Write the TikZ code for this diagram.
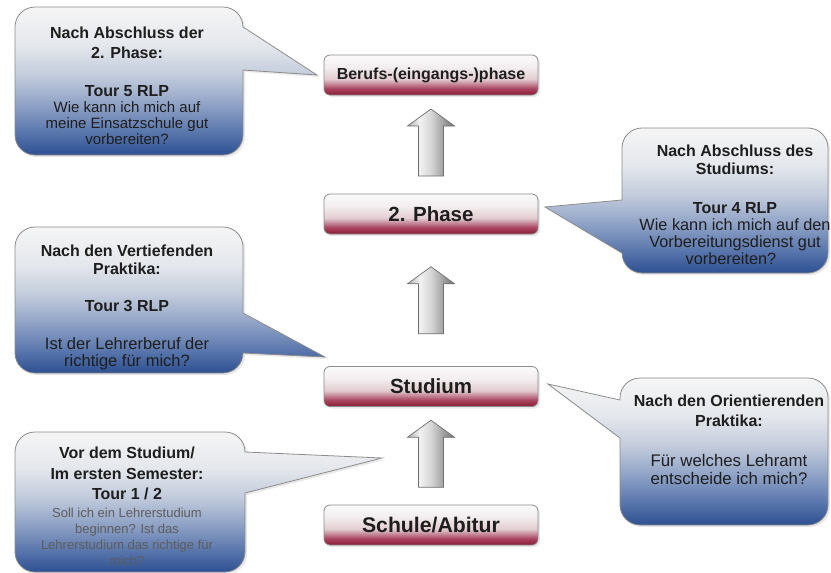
\documentclass[tikz,border=0pt]{standalone}
\usepackage{fontspec}
\setmainfont{Liberation Sans}
\usetikzlibrary{calc,shadows}
\definecolor{txt}{HTML}{1E1E1E}
\definecolor{edge}{HTML}{8C8C8C}
\definecolor{grtxt}{HTML}{5C5C5C}
\definecolor{calA}{HTML}{2E5092}
\definecolor{calB}{HTML}{5573AA}
\definecolor{calC}{HTML}{8FA2C6}
\definecolor{calD}{HTML}{C3CCDC}
\definecolor{calE}{HTML}{E4E7EC}
\definecolor{calF}{HTML}{F5F5F5}
\definecolor{bxA}{HTML}{8A1B35}
\definecolor{bxB}{HTML}{A84460}
\definecolor{bxC}{HTML}{E2CDD2}
\definecolor{bxD}{HTML}{F3EEEF}
\definecolor{bxE}{HTML}{FAFAFA}
\definecolor{arA}{HTML}{B0B0B0}
\definecolor{arB}{HTML}{F2F2F2}
\definecolor{arC}{HTML}{D6D6D6}
\definecolor{arD}{HTML}{707070}
\pgfdeclareverticalshading{calsh}{100bp}{color(0bp)=(calA); color(25bp)=(calA); color(32bp)=(calB); color(42bp)=(calC); color(52bp)=(calD); color(62bp)=(calE); color(75bp)=(calF); color(100bp)=(calF)}
\pgfdeclareverticalshading{boxsh}{100bp}{color(0bp)=(bxA); color(25bp)=(bxA); color(33bp)=(bxB); color(45bp)=(bxC); color(60bp)=(bxD); color(75bp)=(bxE); color(100bp)=(bxE)}
\pgfdeclarehorizontalshading{arrsh}{100bp}{color(0bp)=(arA); color(25bp)=(arA); color(38bp)=(arB); color(50bp)=(arC); color(75bp)=(arD); color(100bp)=(arD)}
\newcommand{\hd}[1]{{\fontsize{16}{16}\selectfont\bfseries #1}}
\newcommand{\grtx}[1]{{\color{grtxt}\fontsize{13}{16}\selectfont #1}}
\newcommand{\blkarrow}[3]{%
  \coordinate (m) at ($(#1.north)!0.5!(#2.south)+(0,#3)$);
  \path[arrowbody] ($(m)+(-12.5,33.5)$) -- ($(m)+(-12.5,-16.5)$) -- ($(m)+(-23.5,-16.5)$)
    -- ($(m)+(0,-33.5)$) -- ($(m)+(23.5,-16.5)$) -- ($(m)+(12.5,-16.5)$)
    -- ($(m)+(12.5,33.5)$) -- cycle;}
\tikzset{
  stagebox/.style={draw=edge, line width=0.8pt, rounded corners=6pt, shading=boxsh,
    minimum width=214pt, minimum height=40pt, inner sep=0pt, text=txt,
    font=\bfseries\fontsize{20.5}{24}\selectfont,
    drop shadow={shadow xshift=2pt,shadow yshift=-2pt,opacity=0.18}},
  callout/.style={draw=edge, line width=0.8pt, shading=calsh,
    drop shadow={shadow xshift=2pt,shadow yshift=-2pt,opacity=0.18}},
  arrowbody/.style={draw=arD, line width=0.7pt, shading=arrsh},
  ctext/.style={align=center, anchor=north, inner sep=0pt, text=txt,
    font=\fontsize{15}{16}\selectfont},
}
\begin{document}
\begin{tikzpicture}[x=1pt,y=-1pt]
\useasboundingbox (0,0) rectangle (831,573);
\fill[white] (0,0) rectangle (831,573);

% stage boxes
\node[stagebox, font=\bfseries\fontsize{16}{19}\selectfont] (berufs) at (431,75) {Berufs-(eingangs-)phase};
\node[stagebox] (phase2) at (431,214) {2. Phase};
\node[stagebox] (studium) at (431,386.5) {Studium};
\node[stagebox, font=\bfseries\fontsize{21.2}{24}\selectfont] (schule) at (431,525) {Schule/Abitur};

% block arrows
\blkarrow{phase2}{berufs}{-2}
\blkarrow{studium}{phase2}{0}
\blkarrow{schule}{studium}{-2}

% callout 1 (top left)
\path[callout] (35,7) -- (223,7) arc[start angle=270,end angle=360,radius=20]
  -- (317,75) -- (243,70) -- (243,135) arc[start angle=0,end angle=90,radius=20]
  -- (35,155) arc[start angle=90,end angle=180,radius=20]
  -- (15,27) arc[start angle=180,end angle=270,radius=20] -- cycle;
\node[ctext] (t1) at (127,26.5) {\hd{Nach Abschluss der}\\[4pt]\hd{2. Phase:}\\[22pt]\hd{Tour 5 RLP}\\Wie kann ich mich auf\\meine Einsatzschule gut\\vorbereiten?};

% callout 2 (right, upper)
\path[callout] (642,128) -- (808,128) arc[start angle=270,end angle=360,radius=20]
  -- (828,253) arc[start angle=0,end angle=90,radius=20]
  -- (642,273) arc[start angle=90,end angle=180,radius=20]
  -- (545,207) -- (622,200) -- (622,148) arc[start angle=180,end angle=270,radius=20] -- cycle;
\node[ctext, font=\fontsize{16.3}{17}\selectfont] (t2) at (735,144.5) {\hd{Nach Abschluss des}\\[1pt]\hd{Studiums:}\\[22pt]\hd{Tour 4 RLP}\\Wie kann ich mich auf den\hspace*{20pt}\\Vorbereitungsdienst gut\hspace*{20pt}\\vorbereiten?\hspace*{8pt}};

% callout 3 (left, middle)
\path[callout] (35,227) -- (223,227) arc[start angle=270,end angle=360,radius=20]
  -- (243,313) -- (325,357) -- (243,353) arc[start angle=0,end angle=90,radius=20]
  -- (35,373) arc[start angle=90,end angle=180,radius=20]
  -- (15,247) arc[start angle=180,end angle=270,radius=20] -- cycle;
\node[ctext, font=\fontsize{16.5}{17}\selectfont] (t3) at (127,244.5) {\hd{Nach den Vertiefenden}\\[1pt]\hd{Praktika:}\\[20pt]\hd{Tour 3 RLP}\\[21pt]Ist der Lehrerberuf der\\richtige für mich?};

% callout 4 (bottom left)
\path[callout] (35,432) -- (225,432) arc[start angle=270,end angle=360,radius=20]
  -- (382,458) -- (245,493) -- (245,552) arc[start angle=0,end angle=90,radius=20]
  -- (35,572) arc[start angle=90,end angle=180,radius=20]
  -- (15,452) arc[start angle=180,end angle=270,radius=20] -- cycle;
\node[ctext] (t4) at (127,446.5) {\hd{Vor dem Studium/}\\[5pt]\hd{Im ersten Semester:}\\[4pt]\hd{Tour 1 / 2}\\[2pt]\grtx{Soll ich ein Lehrerstudium}\\\grtx{beginnen? Ist das}\\\grtx{Lehrerstudium das richtige für}\\\grtx{mich?}};

% callout 5 (bottom right)
\path[callout] (640,378) -- (808,378) arc[start angle=270,end angle=360,radius=20]
  -- (828,505) arc[start angle=0,end angle=90,radius=20]
  -- (640,525) arc[start angle=90,end angle=180,radius=20]
  -- (620,438) -- (548,384) -- (620,400) -- (620,398) arc[start angle=180,end angle=270,radius=20] -- cycle;
\node[ctext, font=\fontsize{16.8}{18}\selectfont] (t5) at (729,394.5) {\hd{Nach den Orientierenden}\\[2pt]\hd{Praktika:}\\[22pt]Für welches Lehramt\\entscheide ich mich?};
\end{tikzpicture}
\end{document}
